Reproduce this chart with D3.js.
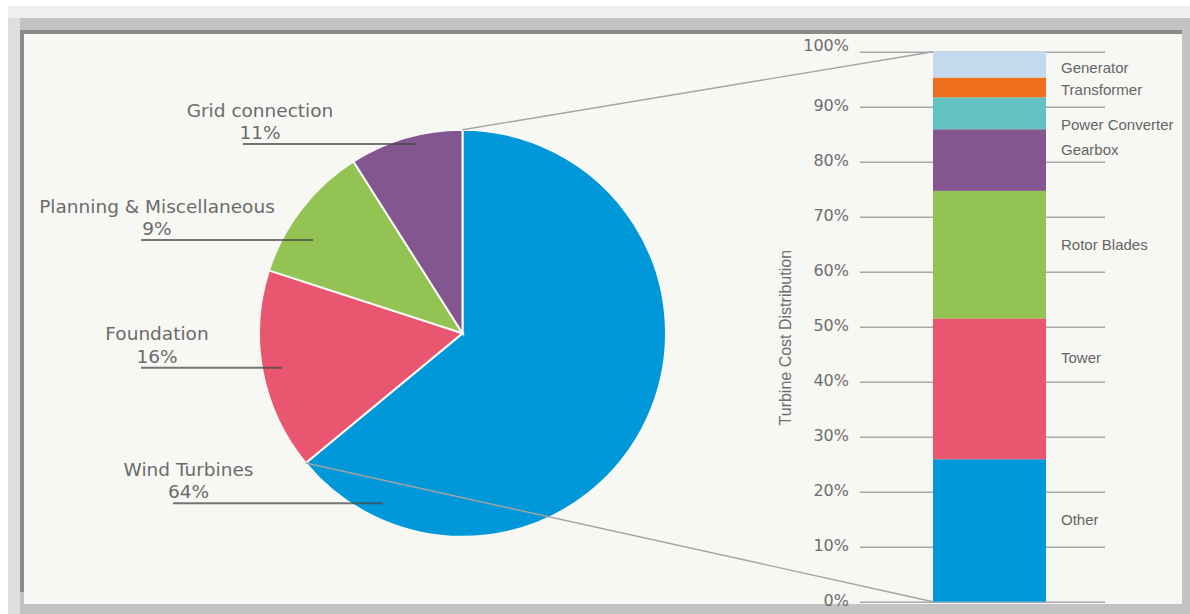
<!DOCTYPE html>
<html>
<head>
<meta charset="utf-8">
<script src="https://cdn.jsdelivr.net/npm/d3@7"></script>
<style>
  html, body { margin: 0; padding: 0; background: #ffffff; }
  svg { display: block; }
</style>
</head>
<body>
<svg id="chart" width="1190" height="614"></svg>
<script>
// ---- Pie data (slice order clockwise from 12 o'clock) ----
const pieCategories = ["Wind Turbines", "Foundation", "Planning & Miscellaneous", "Grid connection"];
const pieValues = [64, 16, 11, 9];
const pieLabelText = ["64%", "16%", "9%", "11%"];
const pieColors = ["#0098d9", "#e8566f", "#92c353", "#84568f"];

// ---- Stacked bar data (bottom to top) ----
const barCategories = ["Other", "Tower", "Rotor Blades", "Gearbox", "Power Converter", "Transformer", "Generator"];
const barValues = [25.9, 25.6, 23.2, 11.2, 5.8, 3.6, 4.7];
const barColors = ["#0098d9", "#e8566f", "#92c353", "#84568f", "#62c2c0", "#ee6f1d", "#c2d9ee"];
const barLabelAt = [14.0, 43.4, 64.0, 81.2, 85.7, 92.1, 96.1]; // label baseline position on the % scale, as placed in chart
const yTicks = [0, 10, 20, 30, 40, 50, 60, 70, 80, 90, 100];
const yTickLabels = ["0%", "10%", "20%", "30%", "40%", "50%", "60%", "70%", "80%", "90%", "100%"];
const yAxisTitle = "Turbine Cost Distribution";

const svg = d3.select("#chart");

// ---- Frame / shadow ----
svg.append("rect").attr("x", 0).attr("y", 0).attr("width", 1190).attr("height", 614).attr("fill", "#ffffff");
svg.append("rect").attr("x", 8).attr("y", 6).attr("width", 1182).attr("height", 608).attr("fill", "#efefef");
svg.append("rect").attr("x", 20).attr("y", 18).attr("width", 1170).attr("height", 596).attr("fill", "#c3c3c3");
svg.append("rect").attr("x", 8).attr("y", 18).attr("width", 12).attr("height", 596).attr("fill", "#dedede");
svg.append("rect").attr("x", 20).attr("y", 30).attr("width", 1162).attr("height", 4).attr("fill", "#8a8a8a");
svg.append("rect").attr("x", 20).attr("y", 30).attr("width", 4).attr("height", 562).attr("fill", "#8a8a8a");
svg.append("rect").attr("x", 24).attr("y", 34).attr("width", 1158).attr("height", 570).attr("fill", "#f7f7f4");

// ---- Pie ----
const cx = 462.5, cy = 333.3, R = 203.5;
const pie = d3.pie().sort(null).value(d => d).startAngle(0).endAngle(2 * Math.PI);
const arcs = pie(pieValues);
const arcGen = d3.arc().innerRadius(0).outerRadius(R);
const pg = svg.append("g").attr("transform", `translate(${cx},${cy})`);
pg.selectAll("path").data(arcs).join("path")
  .attr("d", arcGen)
  .attr("fill", (d, i) => pieColors[i])
  .attr("stroke", "#f7f7f4")
  .attr("stroke-width", 2);

// ---- Bar chart scales ----
const y = d3.scaleLinear().domain([0, 100]).range([601.7, 51.7]);
const x = d3.scaleBand().domain(["Turbine"]).range([933, 1046]).padding(0);

// gridlines via axis (lines run from x=1105 leftwards to x=860)
const gridAxis = d3.axisLeft(y).tickValues(yTicks).tickSize(245).tickFormat("");
const gg = svg.append("g").attr("transform", "translate(1105,0)").call(gridAxis);
gg.select(".domain").remove();
gg.selectAll(".tick line").attr("stroke", "#a8a8a8").attr("stroke-width", 1.4);

// tick labels via axis
const labAxis = d3.axisLeft(y).tickValues(yTicks).tickSize(0).tickPadding(0)
  .tickFormat((d, i) => yTickLabels[i]);
const lg = svg.append("g").attr("transform", "translate(849,0)").call(labAxis);
lg.select(".domain").remove();
lg.selectAll(".tick text")
  .attr("font-family", "DejaVu Sans, sans-serif")
  .attr("font-size", 16)
  .attr("fill", "#6e6e6e")
  .attr("dy", (d) => d === 100 ? "-0.05em" : "0.22em");

// stacked bar
let cum = 0;
const stacks = barValues.map((v, i) => { const s = { i, y0: cum, y1: cum + v }; cum += v; return s; });
svg.append("g").selectAll("rect").data(stacks).join("rect")
  .attr("x", x("Turbine"))
  .attr("width", x.bandwidth())
  .attr("y", d => y(d.y1))
  .attr("height", d => y(d.y0) - y(d.y1))
  .attr("fill", d => barColors[d.i]);

// bar labels
svg.append("g").selectAll("text").data(barCategories).join("text")
  .attr("x", 1061)
  .attr("y", (d, i) => y(barLabelAt[i]))
  .attr("font-family", "Liberation Sans, Arial, sans-serif")
  .attr("font-size", 15)
  .attr("fill", "#666666")
  .text(d => d);

// axis title
svg.append("text")
  .attr("transform", `translate(791,${y(48)}) rotate(-90)`)
  .attr("text-anchor", "middle")
  .attr("font-family", "Liberation Sans, Arial, sans-serif")
  .attr("font-size", 16)
  .attr("fill", "#6e6e6e")
  .text(yAxisTitle);

// ---- Connector lines from pie (Wind Turbines slice) to bar ----
const wt = arcs[0];
const ptAt = a => [cx + R * Math.sin(a), cy - R * Math.cos(a)];
const pStart = ptAt(wt.startAngle), pEnd = ptAt(wt.endAngle);
const conn = svg.append("g").attr("stroke", "#a3a3a3").attr("stroke-width", 1.4).attr("fill", "none");
conn.append("line").attr("x1", pStart[0]).attr("y1", pStart[1]).attr("x2", x("Turbine")).attr("y2", y(100));
conn.append("line").attr("x1", pEnd[0]).attr("y1", pEnd[1]).attr("x2", x("Turbine")).attr("y2", y(0));

// ---- Pie labels ----
const labelPos = [
  { cxText: 188.5, line: 503.3, x1: 173, x2: 383 },   // Wind Turbines
  { cxText: 157, line: 367.7, x1: 141, x2: 282 },     // Foundation
  { cxText: 157, line: 240, x1: 141, x2: 313 },       // Planning
  { cxText: 260, line: 144, x1: 243, x2: 417 }        // Grid connection
];
const lab = svg.append("g");
pieCategories.forEach((name, i) => {
  const p = labelPos[i];
  lab.append("text").attr("x", p.cxText).attr("y", p.line - 27.5)
    .attr("text-anchor", "middle")
    .attr("font-family", "DejaVu Sans, sans-serif").attr("font-size", 18.5)
    .attr("fill", "#6b6b6b").text(name);
  lab.append("text").attr("x", p.cxText).attr("y", p.line - 5)
    .attr("text-anchor", "middle")
    .attr("font-family", "DejaVu Sans, sans-serif").attr("font-size", 18.5)
    .attr("fill", "#6b6b6b").text(pieLabelText[i]);
  lab.append("line").attr("x1", p.x1).attr("x2", p.x2).attr("y1", p.line).attr("y2", p.line)
    .attr("stroke", "#4a4a4a").attr("stroke-opacity", 0.75).attr("stroke-width", 2);
});
</script>
</body>
</html>
